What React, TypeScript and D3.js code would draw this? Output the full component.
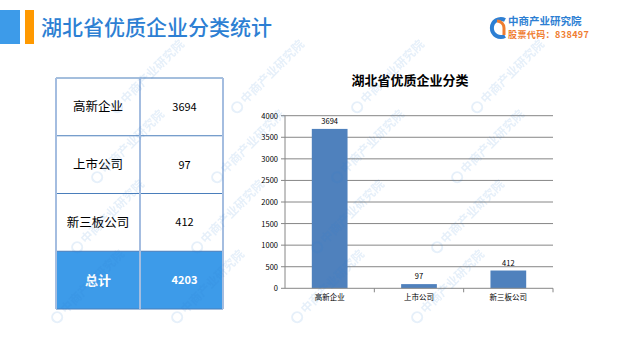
import React from "react";
import * as d3 from "d3";

const categories = ["高新企业", "上市公司", "新三板公司"];
const values = [3694, 97, 412];
const totalLabel = "总计";
const totalValue = 4203;
const yTicks = [0, 500, 1000, 1500, 2000, 2500, 3000, 3500, 4000];

const W = 627, H = 360;
const font = "'Microsoft YaHei','Noto Sans CJK SC','Noto Sans',sans-serif";

export default function App() {
  const plot = { left: 285, right: 553, top: 115.7, bottom: 288.3 };
  const x = d3.scaleBand<string>().domain(categories).range([plot.left, plot.right]).paddingInner(0.6).paddingOuter(0.3);
  const xb = d3.scaleBand<string>().domain(categories).range([plot.left, plot.right]);
  const y = d3.scaleLinear().domain([0, 4000]).range([plot.bottom, plot.top]);

  const rows = [...categories.map((c, i) => ({ c, v: values[i], total: false })), { c: totalLabel, v: totalValue, total: true }];
  const tTop = 78, tBottom = 309, tLeft = 56, tMid = 140, tRight = 223;
  const ry = d3.scaleBand<number>().domain(rows.map((_, i) => i)).range([tTop, tBottom]);

  const wm: { x: number; y: number }[] = [];
  for (let gx = 0; gx < 4; gx++) for (let gy = 0; gy < 4; gy++) wm.push({ x: 120 + gx * 120 - gy * 20, y: 110 + gy * 70 });

  return (
    <svg width={W} height={H} style={{ position: "absolute", left: 0, top: 0, background: "#fff" }} fontFamily={font}>
      <rect width={W} height={H} fill="#fff" />
      {/* header */}
      <rect x={0} y={10} width={20} height={34} fill="#3d9be9" />
      <rect x={25} y={10} width={9} height={34} fill="#ff9900" />
      <text x={41} y={35} fontSize={21} fill="#2d7fd3" fontWeight={500}>湖北省优质企业分类统计</text>
      {/* logo */}
      <g>
        <path d="M 505 20 A 9 9 0 1 0 505 36" fill="none" stroke="#2d7fd3" strokeWidth={4} />
        <path d="M 497 21 A 7 7 0 0 1 504 28 L 504 35" fill="none" stroke="#ef7d31" strokeWidth={3} />
        <text x={508} y={25} fontSize={10.5} fill="#2d7fd3" fontWeight={700}>中商产业研究院</text>
        <text x={508} y={38} fontSize={9} fill="#ef7d31" fontWeight={700} letterSpacing={0.4}>股票代码：838497</text>
      </g>

      {/* table */}
      {rows.map((r, i) => (
        <g key={i}>
          {r.total && <rect x={tLeft} y={ry(i)!} width={tRight - tLeft} height={ry.bandwidth()} fill="#3d9be9" />}
          <text x={(tLeft + tMid) / 2} y={ry(i)! + ry.bandwidth() / 2 + 4.5} textAnchor="middle" fontSize={r.total ? 13 : 12.5}
            fill={r.total ? "#fff" : "#000"} fontWeight={r.total ? 700 : 400}>{r.c}</text>
          <text x={(tMid + tRight) / 2 + 3} y={ry(i)! + ry.bandwidth() / 2 + 4} textAnchor="middle" fontSize={11}
            fill={r.total ? "#fff" : "#000"} fontWeight={r.total ? 700 : 400}>{r.v}</text>
        </g>
      ))}
      {rows.map((_, i) => (
        <line key={"h" + i} x1={tLeft} x2={tRight} y1={ry(i)!} y2={ry(i)!} stroke="#4a7ebb" strokeWidth={1} />
      ))}
      <line x1={tLeft} x2={tRight} y1={tBottom} y2={tBottom} stroke="#4a7ebb" strokeWidth={1} />
      {[tLeft, tMid, tRight].map((xx, i) => (
        <line key={"v" + i} x1={xx} x2={xx} y1={tTop} y2={tBottom} stroke="#a4bde0" strokeWidth={2} />
      ))}

      {/* chart title */}
      <text x={410} y={85} textAnchor="middle" fontSize={13} fontWeight={700} fill="#000">湖北省优质企业分类</text>
      {/* grid */}
      {yTicks.map((t) => (
        <g key={t}>
          {t > 0 && <line x1={plot.left} x2={plot.right} y1={y(t)} y2={y(t)} stroke="#868686" strokeWidth={1} />}
          <line x1={plot.left - 4} x2={plot.left} y1={y(t)} y2={y(t)} stroke="#868686" />
          <text x={plot.left - 7} y={y(t) + 3} textAnchor="end" fontSize={7.5} fill="#000">{t}</text>
        </g>
      ))}
      <line x1={plot.left} x2={plot.left} y1={plot.top} y2={plot.bottom} stroke="#868686" />
      {categories.map((c, i) => (
        <g key={c}>
          <rect x={x(c)!} y={y(values[i])} width={x.bandwidth()} height={plot.bottom - y(values[i])} fill="#4f81bd" />
          <text x={x(c)! + x.bandwidth() / 2} y={y(values[i]) - 5} textAnchor="middle" fontSize={7.5} fill="#000">{values[i]}</text>
          <text x={xb(c)! + xb.bandwidth() / 2} y={plot.bottom + 12} textAnchor="middle" fontSize={7.5} fill="#000">{c}</text>
          <line x1={xb(c)! + xb.bandwidth()} x2={xb(c)! + xb.bandwidth()} y1={plot.bottom} y2={plot.bottom + 4} stroke="#868686" />
        </g>
      ))}
      <line x1={plot.left} x2={plot.right} y1={plot.bottom} y2={plot.bottom} stroke="#868686" />

      {/* watermark */}
      <g opacity={0.12}>
        {wm.map((p, i) => (
          <g key={i} transform={`translate(${p.x},${p.y}) rotate(-45)`}>
            <circle cx={0} cy={-4} r={5} fill="none" stroke="#2d7fd3" strokeWidth={2} />
            <text x={8} y={0} fontSize={12} fill="#2d7fd3" fontWeight={700}>中商产业研究院</text>
          </g>
        ))}
      </g>
    </svg>
  );
}
